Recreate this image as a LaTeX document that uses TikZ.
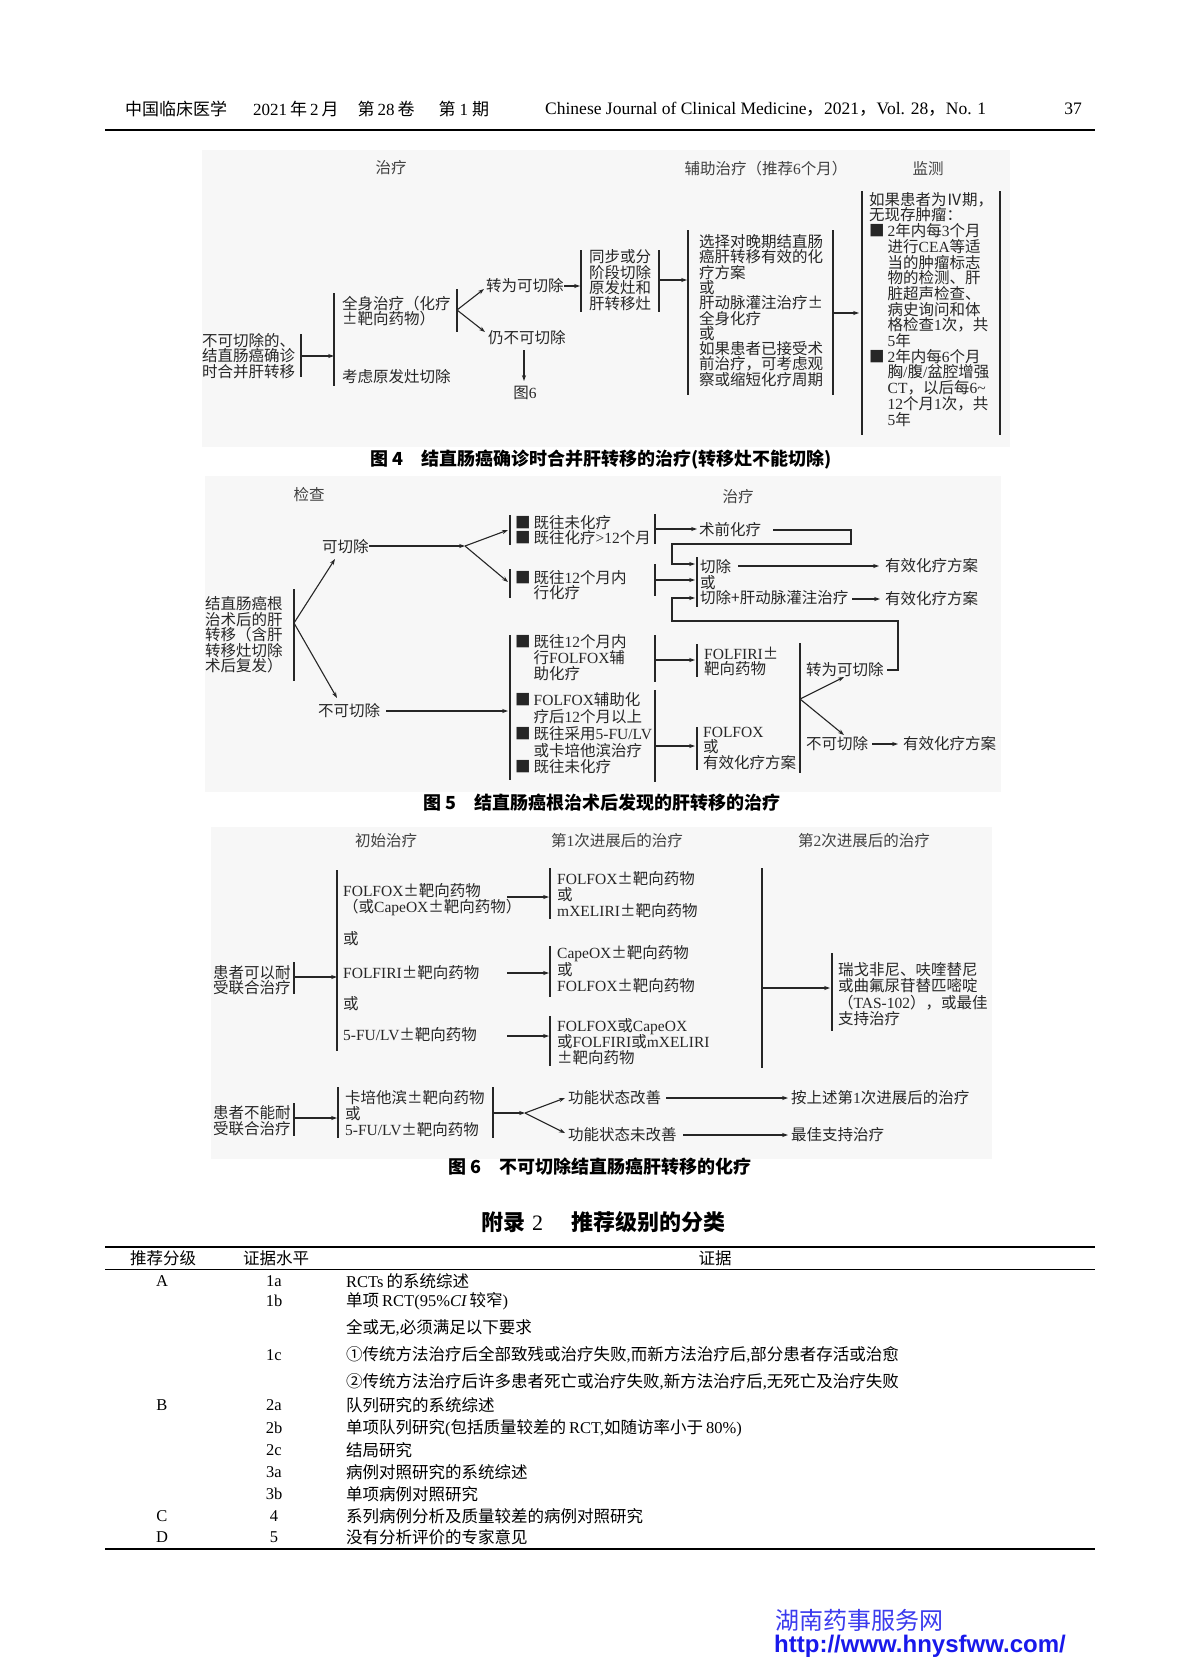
\documentclass[tikz,border=0pt]{standalone}
\usepackage{fontspec}
\setmainfont{Noto Sans CJK SC}
\newfontfamily\lat{Liberation Serif}
\newfontfamily\latsans{Liberation Sans}
\newcommand\E[1]{{\lat #1}}
\newcommand\Bx{■\hspace{3pt}}
\newlength\bxw
\newcommand\In{\hspace*{\bxw}}
\newcommand\figfont{\fontsize{15.5}{15.5}\selectfont}
\usetikzlibrary{arrows.meta}
\definecolor{wmblue}{RGB}{25,25,235}
\definecolor{figbg}{RGB}{247,247,247}
\begin{document}
\settowidth{\bxw}{\figfont\Bx}
\begin{tikzpicture}[x=1pt,y=-1pt,
  tx/.style={inner sep=0pt,anchor=west,align=left,text=black!85,font=\figfont},
  hd/.style={inner sep=0pt,anchor=center,text=black!75,font=\figfont},
  brk/.style={line width=1.4pt,draw=black!85},
  ln/.style={line width=1.1pt,draw=black!85},
  arr/.style={ln,line join=miter,-{Stealth[length=6pt,width=4.2pt]}},
  figcap/.style={inner sep=0pt,anchor=center,font=\fontsize{18}{18}\selectfont\bfseries},
  tb/.style={inner sep=0pt,anchor=center,font=\fontsize{16.5}{16.5}\selectfont},
  tbl/.style={tb,anchor=west},
]
\useasboundingbox (0,0) rectangle (1200,1666);
\fill[white] (0,0) rectangle (1200,1666);

% ---------- page header ----------
\node[inner sep=0pt,anchor=west,font=\fontsize{17}{17}\selectfont] (hcn) at (125,109) {中国临床医学\hspace{26pt}\E{2021}\hspace{3pt}年\hspace{3pt}\E{2}\hspace{3pt}月\hspace{19pt}第\hspace{3pt}\E{28}\hspace{3pt}卷\hspace{24pt}第\hspace{4pt}\E{1}\hspace{4pt}期};
\node[inner sep=0pt,anchor=west,font=\fontsize{17.5}{17.5}\selectfont] (hen) at (545,109) {\lat Chinese Journal of Clinical Medicine{\rmfamily，}2021{\rmfamily，}Vol. 28{\rmfamily，}No. 1};
\node[inner sep=0pt,anchor=center,font=\fontsize{17.5}{17.5}\selectfont] (hpg) at (1073,109) {\lat 37};
\coordinate (hr1) at (105,130); \coordinate (hr2) at (1095,130);
\draw[line width=1.8pt] (hr1) -- (hr2);

% ---------- Figure 4 ----------
\fill[figbg] (202,150) rectangle (1010,447);
\node[hd] (h4a) at (391,168) {治疗};
\node[hd] (h4b) at (766,169) {辅助治疗（推荐\E{6}个月）};
\node[hd] (h4c) at (928,169) {监测};
\node[tx] (n4a) at (202,356) {不可切除的、\\结直肠癌确诊\\时合并肝转移};
\draw[brk] (301,334) -- (301,377);
\coordinate (a4s) at (301,356); \coordinate (a4e) at (334,356);
\draw[arr] (a4s) -- (a4e);
\draw[brk] (334,293) -- (334,386);
\node[tx] (n4b) at (342,311) {全身治疗（化疗\\±靶向药物）};
\node[tx] (n4c) at (342,377) {考虑原发灶切除};
\draw[brk] (457,289) -- (457,332);
\coordinate (j4) at (457,310);
\coordinate (j4u) at (484,289); \coordinate (j4d) at (485,332);
\draw[arr] (j4) -- (j4u);
\draw[arr] (j4) -- (j4d);
\node[tx] (n4d) at (486,286) {转为可切除};
\coordinate (a4a) at (564,286); \coordinate (a4b) at (580,286);
\draw[arr] (a4a) -- (a4b);
\node[tx] (n4e) at (488,338) {仍不可切除};
\coordinate (d4s) at (524,350); \coordinate (d4e) at (524,381);
\draw[arr] (d4s) -- (d4e);
\node[hd,text=black!85] (n4f) at (525,393) {图\E{6}};
\draw[brk] (581,250) -- (581,312);
\node[tx] (n4g) at (589,280) {同步或分\\阶段切除\\原发灶和\\肝转移灶};
\draw[brk] (659,250) -- (659,312);
\coordinate (a4c) at (659,280); \coordinate (a4d) at (687,280);
\draw[arr] (a4c) -- (a4d);
\draw[brk] (688,230) -- (688,395);
\node[tx,font=\fontsize{15.5}{15.3}\selectfont] (n4h) at (699,310.5) {选择对晚期结直肠\\癌肝转移有效的化\\疗方案\\或\\肝动脉灌注治疗±\\全身化疗\\或\\如果患者已接受术\\前治疗，可考虑观\\察或缩短化疗周期};
\draw[brk] (833,230) -- (833,395);
\coordinate (a4f) at (833,313); \coordinate (a4g) at (859,313);
\draw[arr] (a4f) -- (a4g);
\draw[brk] (862,191) -- (862,435);
\node[tx,font=\fontsize{15.5}{15.7}\selectfont] (n4i) at (869,309.3) {如果患者为Ⅳ期，\\无现存肿瘤：\\\Bx\E{2}年内每\E{3}个月\\\In 进行\E{CEA}等适\\\In 当的肿瘤标志\\\In 物的检测、肝\\\In 脏超声检查、\\\In 病史询问和体\\\In 格检查\E{1}次，共\\\In\E{5}年\\\Bx\E{2}年内每\E{6}个月\\\In 胸\E{/}腹\E{/}盆腔增强\\\In\E{CT}，以后每\E{6\char"7E}\\\In\E{12}个月\E{1}次，共\\\In\E{5}年};
\draw[brk] (1000,191) -- (1000,435);
\node[figcap] (c4) at (601,460) {图\hspace{4pt}4\hspace{18pt}结直肠癌确诊时合并肝转移的治疗(转移灶不能切除)};

% ---------- Figure 5 ----------
\fill[figbg] (205,476) rectangle (1001,792);
\node[hd] (h5a) at (309,495) {检查};
\node[hd] (h5b) at (738,497) {治疗};
\node[tx] (n5a) at (205,635) {结直肠癌根\\治术后的肝\\转移（含肝\\转移灶切除\\术后复发）};
\draw[brk] (294,589) -- (294,681);
\coordinate (j5) at (294,623);
\coordinate (j5u) at (335,559); \coordinate (j5d) at (337,698);
\draw[arr] (j5) -- (j5u);
\draw[arr] (j5) -- (j5d);
\node[tx] (n5b) at (322,547) {可切除};
\coordinate (a5s) at (369,546); \coordinate (j5b) at (465,546);
\draw[arr] (a5s) -- (j5b);
\coordinate (j5bu) at (508,530); \coordinate (j5bd) at (508,582);
\draw[arr] (j5b) -- (j5bu);
\draw[arr] (j5b) -- (j5bd);
\draw[brk] (510,515) -- (510,545);
\node[tx] (n5c) at (515,530) {\Bx 既往未化疗\\\Bx 既往化疗\E{>12}个月};
\draw[brk] (510,569) -- (510,598);
\node[tx] (n5d) at (515,585) {\Bx 既往\E{12}个月内\\\In 行化疗};
\draw[brk] (510,635) -- (510,780);
\node[tx,font=\fontsize{15.5}{15.7}\selectfont] (n5e) at (515,657.5) {\Bx 既往\E{12}个月内\\\In 行\E{FOLFOX}辅\\\In 助化疗};
\node[tx,font=\fontsize{15.5}{16.7}\selectfont] (n5f) at (515,733.5) {\Bx\E{FOLFOX}辅助化\\\In 疗后\E{12}个月以上\\\Bx 既往采用\E{5-FU/LV}\\\In 或卡培他滨治疗\\\Bx 既往未化疗};
\node[tx] (n5g) at (318,711) {不可切除};
\coordinate (a5a) at (386,711); \coordinate (a5b) at (508,711);
\draw[arr] (a5a) -- (a5b);
% right brackets of the first column
\draw[brk] (655,514) -- (655,544);
\draw[brk] (655,564) -- (655,596);
\draw[brk] (655,635) -- (655,682);
\draw[brk] (655,690) -- (655,782);
\node[tx] (n5h) at (699,530) {术前化疗};
\draw[arr] (655,529) -- (697,529);
\draw[arr] (773,530) -- (851,530) -- (851,544) -- (672,544) -- (672,564) -- (695,564);
\draw[arr] (655,580) -- (695,580);
\draw[brk] (697,557) -- (697,607);
\node[tx] (n5i) at (700,582.5) {切除\\或\\切除+肝动脉灌注治疗};
\node[tx] (n5j) at (885,566) {有效化疗方案};
\node[tx] (n5k) at (885,599) {有效化疗方案};
\draw[arr] (738,566) -- (879,566);
\draw[arr] (852,599) -- (880,599);
\draw[arr] (655,660) -- (695,660);
\draw[brk] (697,644) -- (697,677);
\node[tx] (n5l) at (704,661.5) {\E{FOLFIRI}±\\靶向药物};
\draw[arr] (655,746) -- (695,746);
\draw[brk] (697,727) -- (697,770);
\node[tx] (n5m) at (703,748) {\E{FOLFOX}\\或\\有效化疗方案};
\draw[brk] (800,643) -- (800,773);
\coordinate (j5c) at (800,699);
\coordinate (j5cu) at (844,677); \coordinate (j5cd) at (844,735);
\draw[arr] (j5c) -- (j5cu);
\draw[arr] (j5c) -- (j5cd);
\node[tx] (n5n) at (806,670) {转为可切除};
\draw[arr] (887,670) -- (898,670) -- (898,621) -- (672,621) -- (672,598) -- (695,598);
\node[tx] (n5o) at (806,744) {不可切除};
\node[tx] (n5p) at (903,744) {有效化疗方案};
\draw[arr] (872,744) -- (898,744);
\node[figcap] (c5) at (602,803) {图\hspace{4pt}5\hspace{18pt}结直肠癌根治术后发现的肝转移的治疗};

% ---------- Figure 6 ----------
\fill[figbg] (211,827) rectangle (992,1159);
\node[hd] (h6a) at (386,841) {初始治疗};
\node[hd] (h6b) at (617,841) {第\E{1}次进展后的治疗};
\node[hd] (h6c) at (864,841) {第\E{2}次进展后的治疗};
\node[tx] (n6a) at (213,980) {患者可以耐\\受联合治疗};
\draw[brk] (294,962) -- (294,994);
\draw[arr] (294,977) -- (337,977);
\draw[brk] (337,870) -- (337,1051);
\node[tx,font=\fontsize{15.5}{16.5}\selectfont] (n6b) at (343,899.5) {\E{FOLFOX}±靶向药物\\（或\E{CapeOX}±靶向药物）};
\node[tx] (n6c) at (343,939) {或};
\node[tx] (n6d) at (343,973) {\E{FOLFIRI}±靶向药物};
\node[tx] (n6e) at (343,1004) {或};
\node[tx] (n6f) at (343,1035) {\E{5-FU/LV}±靶向药物};
\draw[arr] (507,897) -- (549,897);
\draw[arr] (507,973) -- (549,973);
\draw[arr] (507,1036) -- (549,1036);
\draw[brk] (550,868) -- (550,919);
\draw[brk] (550,946) -- (550,997);
\draw[brk] (550,1016) -- (550,1066);
\node[tx,font=\fontsize{15.5}{16}\selectfont] (n6g) at (557,895) {\E{FOLFOX}±靶向药物\\或\\\E{mXELIRI}±靶向药物};
\node[tx,font=\fontsize{15.5}{16}\selectfont] (n6h) at (557,969) {\E{CapeOX}±靶向药物\\或\\\E{FOLFOX}±靶向药物};
\node[tx,font=\fontsize{15.5}{16.3}\selectfont] (n6i) at (557,1041.5) {\E{FOLFOX}或\E{CapeOX}\\或\E{FOLFIRI}或\E{mXELIRI}\\±靶向药物};
\draw[brk] (762,868) -- (762,1068);
\draw[arr] (762,988) -- (830,988);
\draw[brk] (832,953) -- (832,1031);
\node[tx,font=\fontsize{15.5}{16.5}\selectfont] (n6j) at (838,994) {瑞戈非尼、呋喹替尼\\或曲氟尿苷替匹嘧啶\\（\E{TAS-102}），或最佳\\支持治疗};
\node[tx] (n6k) at (213,1120.5) {患者不能耐\\受联合治疗};
\draw[brk] (294,1103) -- (294,1136);
\draw[arr] (294,1118) -- (337,1118);
\draw[brk] (338,1087) -- (338,1138);
\node[tx,font=\fontsize{15.5}{16}\selectfont] (n6l) at (345,1114) {卡培他滨±靶向药物\\或\\\E{5-FU/LV}±靶向药物};
\draw[brk] (493,1087) -- (493,1138);
\coordinate (j6) at (525,1113);
\draw[arr] (493,1113) -- (j6);
\coordinate (j6u) at (565,1098); \coordinate (j6d) at (565,1133);
\draw[arr] (j6) -- (j6u);
\draw[arr] (j6) -- (j6d);
\node[tx] (n6m) at (568,1098) {功能状态改善};
\node[tx] (n6n) at (791,1098) {按上述第\E{1}次进展后的治疗};
\draw[arr] (666,1098) -- (788,1098);
\node[tx] (n6o) at (568,1135) {功能状态未改善};
\node[tx] (n6p) at (791,1135) {最佳支持治疗};
\draw[arr] (683,1135) -- (788,1135);
\node[figcap] (c6) at (600,1167) {图\hspace{4pt}6\hspace{18pt}不可切除结直肠癌肝转移的化疗};

% ---------- Table ----------
\node[inner sep=0pt,font=\fontsize{22}{22}\selectfont\bfseries] (tt) at (603,1222) {附录\hspace{7pt}{\mdseries\E{2}}\hspace{28pt}推荐级别的分类};
\draw[line width=1.8pt] (105,1247) -- (1095,1247);
\node[tb] (th1) at (163,1258) {推荐分级};
\node[tb] (th2) at (276,1258) {证据水平};
\node[tb] (th3) at (715,1258) {证据};
\draw[line width=0.8pt] (105,1269) -- (1095,1269);
\node[tb] (gA) at (162,1281) {\E{A}};
\node[tb] (l1a) at (274,1281) {\E{1a}};
\node[tbl] (e1a) at (346,1281) {\E{RCTs}\hspace{3pt}的系统综述};
\node[tb] (l1b) at (274,1301) {\E{1b}};
\node[tbl] (e1b) at (346,1301) {单项\hspace{3pt}\E{RCT(95\%{\itshape CI}}\hspace{3pt}较窄\E{)}};
\node[tbl] (e1c0) at (346,1328) {全或无\E{,}必须满足以下要求};
\node[tb] (l1c) at (274,1355) {\E{1c}};
\node[tbl] (e1c1) at (346,1355) {①传统方法治疗后全部致残或治疗失败\E{,}而新方法治疗后\E{,}部分患者存活或治愈};
\node[tbl] (e1c2) at (346,1382) {②传统方法治疗后许多患者死亡或治疗失败\E{,}新方法治疗后\E{,}无死亡及治疗失败};
\node[tb] (gB) at (162,1405) {\E{B}};
\node[tb] (l2a) at (274,1405) {\E{2a}};
\node[tbl] (e2a) at (346,1405) {队列研究的系统综述};
\node[tb] (l2b) at (274,1428) {\E{2b}};
\node[tbl] (e2b) at (346,1428) {单项队列研究\E{(}包括质量较差的\hspace{3pt}\E{RCT,}如随访率小于\hspace{3pt}\E{80\%)}};
\node[tb] (l2c) at (274,1450) {\E{2c}};
\node[tbl] (e2c) at (346,1450) {结局研究};
\node[tb] (l3a) at (274,1472) {\E{3a}};
\node[tbl] (e3a) at (346,1472) {病例对照研究的系统综述};
\node[tb] (l3b) at (274,1494) {\E{3b}};
\node[tbl] (e3b) at (346,1494) {单项病例对照研究};
\node[tb] (gC) at (162,1516) {\E{C}};
\node[tb] (l4) at (274,1516) {\E{4}};
\node[tbl] (e4) at (346,1516) {系列病例分析及质量较差的病例对照研究};
\node[tb] (gD) at (162,1537) {\E{D}};
\node[tb] (l5) at (274,1537) {\E{5}};
\node[tbl] (e5) at (346,1537) {没有分析评价的专家意见};
\draw[line width=1.8pt] (105,1549) -- (1095,1549);

% ---------- watermark ----------
\node[inner sep=0pt,anchor=west,text=wmblue!85,font=\fontsize{24}{24}\selectfont] (wm1) at (775,1620) {湖南药事服务网};
\node[inner sep=0pt,anchor=west,text=wmblue,font=\fontsize{24}{24}\selectfont\latsans\bfseries] (wm2) at (774,1646) {http://www.hnysfww.com/};
\end{tikzpicture}
\end{document}
